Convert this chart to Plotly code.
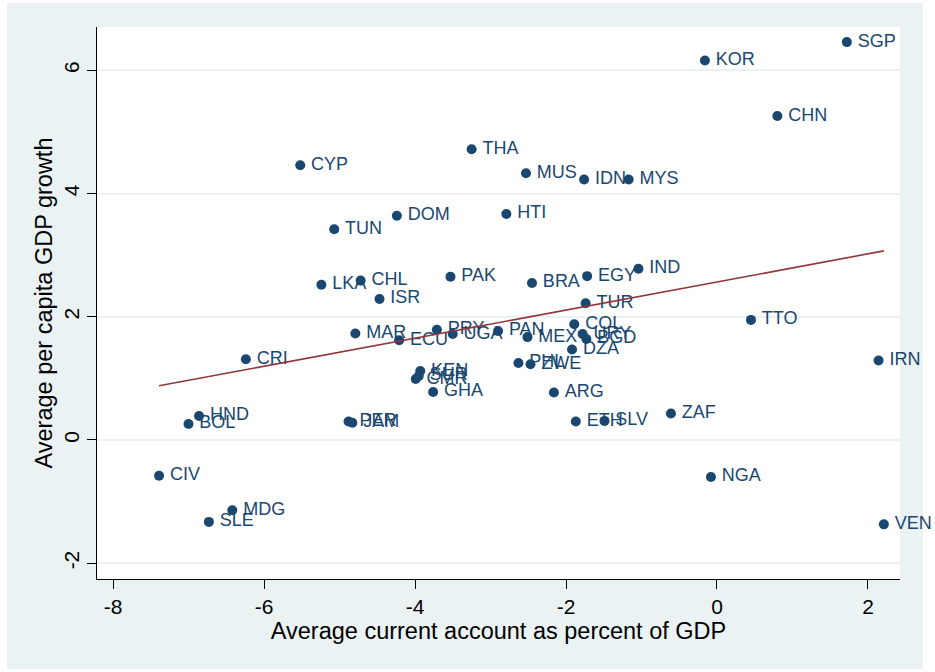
import plotly.graph_objects as go

# Country codes with average current account (% of GDP) and average per capita GDP growth
countries = [
    "SGP", "KOR", "CHN", "CYP", "THA", "MUS", "IDN", "MYS", "DOM", "HTI",
    "TUN", "IND", "EGY", "PAK", "BRA", "CHL", "LKA", "ISR", "TUR", "TTO",
    "COL", "MAR", "ECU", "PRY", "UGA", "PAN", "MEX", "URY", "BGD", "DZA",
    "IRN", "CRI", "PHL", "ZWE", "KEN", "CMR", "SUR", "GHA", "ARG", "ZAF",
    "HND", "BOL", "PER", "JAM", "ETH", "SLV", "CIV", "NGA", "MDG", "SLE",
    "VEN",
]
current_account = [
    1.72, -0.16, 0.80, -5.52, -3.25, -2.53, -1.76, -1.17, -4.24, -2.79,
    -5.07, -1.04, -1.72, -3.53, -2.45, -4.72, -5.24, -4.47, -1.74, 0.45,
    -1.89, -4.79, -4.21, -3.71, -3.50, -2.90, -2.51, -1.78, -1.73, -1.92,
    2.14, -6.24, -2.63, -2.47, -3.93, -3.99, -3.95, -3.76, -2.16, -0.61,
    -6.86, -7.00, -4.88, -4.83, -1.87, -1.49, -7.39, -0.08, -6.42, -6.73,
    2.21,
]
gdp_growth = [
    6.46, 6.16, 5.26, 4.46, 4.72, 4.33, 4.23, 4.23, 3.64, 3.67,
    3.42, 2.78, 2.66, 2.65, 2.55, 2.59, 2.52, 2.29, 2.22, 1.95,
    1.88, 1.73, 1.62, 1.79, 1.72, 1.77, 1.67, 1.72, 1.64, 1.47,
    1.29, 1.31, 1.25, 1.23, 1.12, 0.99, 1.04, 0.78, 0.77, 0.43,
    0.39, 0.26, 0.30, 0.28, 0.30, 0.31, -0.58, -0.60, -1.14, -1.33,
    -1.37,
]

# Linear fit endpoints over the range of the data
fit_x = [-7.39, 2.21]
fit_y = [0.88, 3.07]

x_ticks = [-8, -6, -4, -2, 0, 2]
y_ticks = [-2, 0, 2, 4, 6]

NAVY = "#1a476f"
MAROON = "#90353b"
BG = "#eaf2f3"
FONT = "Liberation Sans, Arial, sans-serif"

fig = go.Figure()

# marker labels sit a little to the right of each dot
labels = ["\u2009" + c for c in countries]

fig.add_trace(go.Scatter(
    x=current_account,
    y=gdp_growth,
    mode="markers+text",
    text=labels,
    textposition="middle right",
    textfont=dict(family=FONT, size=18, color=NAVY),
    marker=dict(color=NAVY, size=10),
    cliponaxis=False,
    showlegend=False,
))

fig.add_trace(go.Scatter(
    x=fit_x,
    y=fit_y,
    mode="lines",
    line=dict(color=MAROON, width=1.6),
    showlegend=False,
))

W, H = 935, 672
L, R, T, B = 97, 35, 27, 93
pw, ph = W - L - R, H - T - B


def px_to_paper_x(px):
    return (px - L) / pw


def px_to_paper_y(py):
    return (H - B - py) / ph


# thin white frame around the shaded outer region
frame = [
    (0, 0, W, 3),
    (0, 0, 7, H),
    (923, 0, W, H),
    (0, 669, W, H),
]
shapes = [
    dict(
        type="rect", xref="paper", yref="paper",
        x0=px_to_paper_x(x0), x1=px_to_paper_x(x1),
        y0=px_to_paper_y(y1), y1=px_to_paper_y(y0),
        fillcolor="white", line=dict(width=0), layer="below",
    )
    for x0, y0, x1, y1 in frame
]

fig.update_layout(
    width=W,
    height=H,
    margin=dict(l=L, r=R, t=T, b=B, pad=0),
    paper_bgcolor=BG,
    plot_bgcolor="white",
    font=dict(family=FONT, color="black"),
    shapes=shapes,
    xaxis=dict(
        range=[-8.212, 2.424],
        tickmode="array",
        tickvals=x_ticks,
        ticktext=[str(v) for v in x_ticks],
        ticks="outside",
        ticklen=9,
        tickwidth=1,
        tickcolor="black",
        tickfont=dict(size=21, color="black"),
        showline=True,
        linecolor="black",
        linewidth=1,
        showgrid=False,
        zeroline=False,
        title=dict(
            text="Average current account as percent of GDP",
            font=dict(size=23.5, color="black"),
            standoff=0,
        ),
    ),
    yaxis=dict(
        range=[-2.257, 6.705],
        tickmode="array",
        tickvals=y_ticks,
        ticktext=[str(v) for v in y_ticks],
        tickangle=-90,
        ticks="outside",
        ticklen=9,
        tickwidth=1,
        tickcolor="black",
        tickfont=dict(size=21, color="black"),
        showline=True,
        linecolor="black",
        linewidth=1,
        showgrid=True,
        gridcolor=BG,
        gridwidth=2,
        zeroline=False,
        title=dict(
            text="Average per capita GDP growth",
            font=dict(size=23.5, color="black"),
            standoff=0,
        ),
    ),
)

fig.write_html("out.html")
